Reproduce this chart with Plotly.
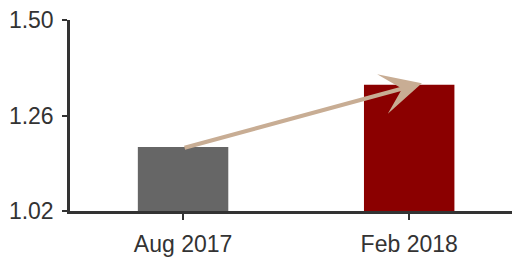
import plotly.graph_objects as go

categories = ["Aug 2017", "Feb 2018"]
values = [1.181, 1.337]
bar_colors = ["#666666", "#8B0000"]
y_ticks = [1.02, 1.26, 1.50]

fig = go.Figure()
fig.add_trace(go.Bar(
    x=categories, y=values,
    marker=dict(color=bar_colors, line=dict(width=0)),
    width=0.4,
))

fig.add_annotation(
    x=1.056, y=values[1] + 0.004, xref="x", yref="y",
    ax=0, ay=values[0] - 0.003, axref="x", ayref="y",
    text="", showarrow=True,
    arrowhead=3, arrowsize=1.7, arrowwidth=4,
    arrowcolor="#C8AD94", standoff=0, startstandoff=0,
)

font = dict(family="Liberation Sans, Arial, sans-serif", size=23, color="#333333")

# page body has an 8px default margin, so the figure is offset by 8px
fig.update_layout(
    width=520, height=258,
    margin=dict(l=62, r=8, t=12, b=55, autoexpand=False),
    paper_bgcolor="white", plot_bgcolor="white",
    showlegend=False,
    font=font,
    xaxis=dict(
        type="category", range=[-0.5, 1.49], automargin=False,
        showline=True, linecolor="#333333", linewidth=2.5,
        ticks="outside", ticklen=6, tickwidth=2, tickcolor="#333333",
        ticklabelstandoff=5, ticklabeloverflow="allow",
        showgrid=False, zeroline=False, tickfont=font,
    ),
    yaxis=dict(
        range=[1.02, 1.50], tickvals=y_ticks, tickformat=".2f", automargin=False,
        showline=True, linecolor="#333333", linewidth=2.5,
        ticks="outside", ticklen=5, tickwidth=2, tickcolor="#333333",
        ticklabelstandoff=4, ticklabeloverflow="allow",
        showgrid=False, zeroline=False, tickfont=font,
    ),
)

fig.write_html("out.html")
